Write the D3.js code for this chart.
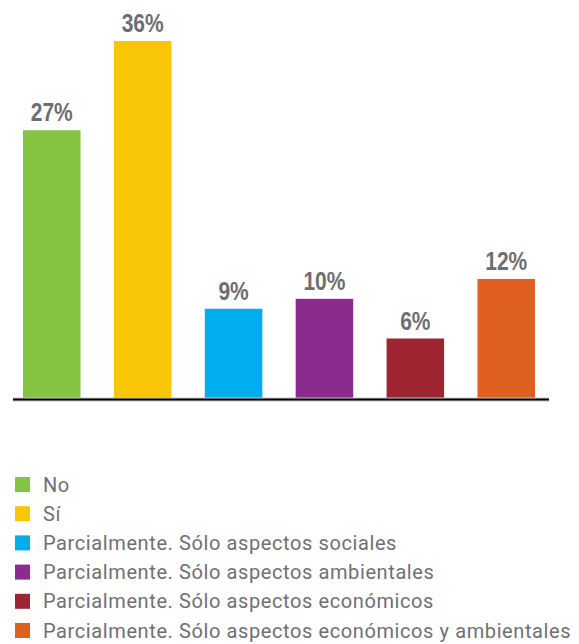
<!DOCTYPE html>
<html>
<head>
<meta charset="utf-8">
<script src="https://cdn.jsdelivr.net/npm/d3@7"></script>
<style>
  html, body { margin: 0; padding: 0; background: #fff; }
  svg { display: block; }
</style>
</head>
<body>
<svg id="chart" width="579" height="644"></svg>
<script>
// Survey answers and their shares (%)
const categories = [
  "No",
  "Sí",
  "Parcialmente. Sólo aspectos sociales",
  "Parcialmente. Sólo aspectos ambientales",
  "Parcialmente. Sólo aspectos económicos",
  "Parcialmente. Sólo aspectos económicos y ambientales"
];
const values = [27, 36, 9, 10, 6, 12];
const colors = ["#84c441", "#f8c605", "#00aeef", "#8b2b8e", "#9e2432", "#e06020"];

const svg = d3.select("#chart");
const textGrey = "#6d6e71";

const x = d3.scaleBand()
  .domain(categories)
  .range([23, 535])
  .paddingInner(0.367)
  .paddingOuter(0);

const y = d3.scaleLinear()
  .domain([0, 36])
  .range([398, 41]);

// Bars
svg.append("g")
  .selectAll("rect")
  .data(categories)
  .join("rect")
  .attr("x", d => x(d))
  .attr("y", (d, i) => y(values[i]))
  .attr("width", x.bandwidth())
  .attr("height", (d, i) => y(0) - y(values[i]))
  .attr("fill", (d, i) => colors[i]);

// Value labels, horizontally condensed
svg.append("g")
  .selectAll("text")
  .data(categories)
  .join("text")
  .attr("transform", (d, i) =>
    `translate(${x(d) + x.bandwidth() / 2},${y(values[i]) - 9}) scale(0.84,1)`)
  .attr("text-anchor", "middle")
  .style("font-family", "'Liberation Sans', Arial, sans-serif")
  .style("font-weight", "bold")
  .style("font-size", "25px")
  .attr("fill", textGrey)
  .text((d, i) => values[i] + "%");

// Baseline axis
const axis = svg.append("g").attr("transform", `translate(0,${y(0) + 1.5})`);
axis.append("line")
  .attr("x1", 13).attr("x2", 549)
  .attr("stroke", "#c8c8c8").attr("stroke-width", 4);
axis.append("line")
  .attr("x1", 13).attr("x2", 549)
  .attr("stroke", "#000").attr("stroke-width", 2);

// Legend
const rowStep = 29.2;
const legend = svg.append("g").attr("transform", "translate(15,477)");
const rows = legend.selectAll("g")
  .data(categories)
  .join("g")
  .attr("transform", (d, i) => `translate(0,${i * rowStep})`);
rows.append("rect")
  .attr("width", 15).attr("height", 15)
  .attr("fill", (d, i) => colors[i]);
rows.append("text")
  .attr("x", 28)
  .attr("y", 14.5)
  .style("font-family", "Roboto, 'Liberation Sans', sans-serif")
  .style("font-size", "20px")
  .style("letter-spacing", "0.6px")
  .attr("fill", "#707073")
  .text(d => d);
</script>
</body>
</html>
